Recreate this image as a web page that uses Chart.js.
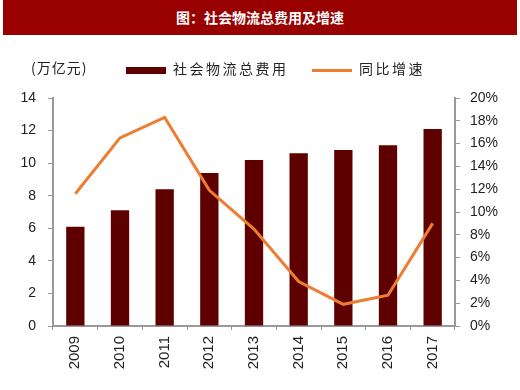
<!DOCTYPE html>
<html>
<head>
<meta charset="utf-8">
<script src="https://cdn.jsdelivr.net/npm/chart.js@4/dist/chart.umd.min.js"></script>
<style>
    body { margin: 0; background: #fff; }
    #wrap { position: relative; width: 520px; height: 390px; font-family: "Noto Sans CJK SC", sans-serif; }
    #title {
        position: absolute; left: 3px; top: 0; width: 514px; height: 35px;
        background: #990000; color: #fff; font-weight: bold; font-size: 14px;
        line-height: 35px; text-align: center;
    }
    #unit { position: absolute; left: 31px; top: 57px; font-size: 14px; color: #222; letter-spacing: 1px; }
    .leg { position: absolute; top: 58px; font-size: 14px; color: #222; letter-spacing: 2.5px; }
    .sw { display: inline-block; width: 40px; vertical-align: middle; margin-right: 7px; }
    canvas { position: absolute; left: 0; top: 0; }
</style>
</head>
<body>
<div id="wrap">
    <canvas id="chart" width="520" height="390"></canvas>
    <div id="title">图：社会物流总费用及增速</div>
    <div id="unit">(万亿元)</div>
    <div class="leg" style="left:126px"><span class="sw" style="height:7px;background:#5e0000"></span>社会物流总费用</div>
    <div class="leg" style="left:312px"><span class="sw" style="height:3px;background:#ed7d31"></span>同比增速</div>
</div>
<script>
// 数据
const years = ['2009', '2010', '2011', '2012', '2013', '2014', '2015', '2016', '2017'];
const totalCost = [6.1, 7.1, 8.4, 9.4, 10.2, 10.6, 10.8, 11.1, 12.1];
const growthRate = [11.6, 16.5, 18.3, 11.9, 8.5, 3.9, 1.9, 2.7, 9.0];

const axisColor = '#999';
const tickFont = { family: 'Liberation Sans, Arial', size: 14 };

new Chart(document.getElementById('chart').getContext('2d'), {
    type: 'bar',
    data: {
        labels: years,
        datasets: [{
            type: 'line',
            label: '同比增速',
            data: growthRate,
            yAxisID: 'y1',
            borderColor: '#ed7d31',
            backgroundColor: '#ed7d31',
            borderWidth: 3,
            pointRadius: 0,
            tension: 0,
            order: 0
        }, {
            label: '社会物流总费用',
            data: totalCost,
            yAxisID: 'y',
            backgroundColor: '#5e0000',
            barPercentage: 0.41,
            categoryPercentage: 1,
            order: 1
        }]
    },
    options: {
        responsive: false,
        animation: false,
        layout: { padding: { top: 98, left: 0, right: 0, bottom: 0 } },
        plugins: {
            legend: { display: false },
            tooltip: { enabled: false }
        },
        scales: {
            x: {
                offset: true,
                grid: { display: true, drawOnChartArea: false, offset: true, color: axisColor, tickLength: 4 },
                border: { color: axisColor, width: 2 },
                ticks: { color: '#222', font: { family: 'Liberation Sans, Arial', size: 15 }, minRotation: 90, maxRotation: 90, padding: 6 },
                afterFit: function(scale) { scale.height = 64; }
            },
            y: {
                position: 'left',
                min: 0,
                max: 14,
                grid: { display: true, drawOnChartArea: false, color: axisColor, tickLength: 5 },
                border: { color: axisColor, width: 2 },
                ticks: { stepSize: 2, color: '#222', font: tickFont, padding: 12 },
                afterFit: function(scale) { scale.width = 53; }
            },
            y1: {
                position: 'right',
                min: 0,
                max: 20,
                grid: { display: true, drawOnChartArea: false, color: axisColor, tickLength: 5 },
                border: { color: axisColor, width: 2 },
                ticks: {
                    stepSize: 2,
                    color: '#222',
                    font: tickFont,
                    padding: 10,
                    callback: function(value) { return value + '%'; }
                },
                afterFit: function(scale) { scale.width = 65; }
            }
        }
    }
});
</script>
</body>
</html>
